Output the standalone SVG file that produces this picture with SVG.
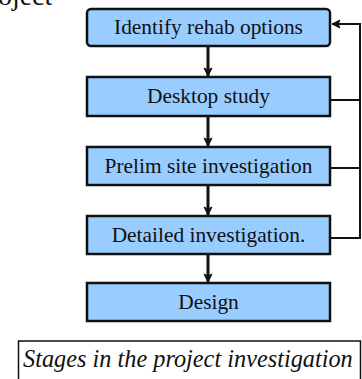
<svg xmlns="http://www.w3.org/2000/svg" width="362" height="379" viewBox="0 0 362 379">
<style>
.box{fill:#99ccff;stroke:#111;stroke-width:2.5}
text{font-family:"Liberation Serif","Times New Roman","DejaVu Serif",serif;fill:#111}
.t{font-size:21.4px;text-anchor:middle}
.c{stroke:#111;fill:none}
.flow{stroke-width:3}
.fb{stroke-width:2}
</style>
<defs>
<marker id="ah" markerWidth="10" markerHeight="10" refX="9" refY="5" orient="auto" markerUnits="userSpaceOnUse">
<path d="M1,1 L9,5 L1,9 L3,5 Z" fill="#111" stroke="#111" stroke-width="1" stroke-linejoin="miter"/>
</marker>
</defs>
<text x="-27" y="5" font-size="28">Project</text>
<g id="connectors">
<line class="c flow" x1="208" y1="47" x2="208" y2="76" marker-end="url(#ah)"/>
<line class="c flow" x1="208" y1="117" x2="208" y2="146" marker-end="url(#ah)"/>
<line class="c flow" x1="208" y1="186" x2="208" y2="215" marker-end="url(#ah)"/>
<line class="c flow" x1="208" y1="255" x2="208" y2="282" marker-end="url(#ah)"/>
<polyline class="c fb" points="330,100 360,100"/>
<polyline class="c fb" points="330,168 360,168"/>
<polyline class="c fb" points="330,238 360,238 360,24 332,24" marker-end="url(#ah)"/>
</g>
<g id="n1"><rect class="box" x="87" y="9" width="243" height="37" rx="4"/><text class="t" x="208.5" y="34">Identify rehab options</text></g>
<g id="n2"><rect class="box" x="87" y="77" width="243" height="39"/><text class="t" x="208.5" y="103">Desktop study</text></g>
<g id="n3"><rect class="box" x="87" y="147" width="243" height="38"/><text class="t" x="208.5" y="173">Prelim site investigation</text></g>
<g id="n4"><rect class="box" x="87" y="216" width="243" height="38"/><text class="t" x="208.5" y="242">Detailed investigation.</text></g>
<g id="n5"><rect class="box" x="87" y="283" width="243" height="38"/><text class="t" x="208.5" y="309">Design</text></g>
<g id="caption"><rect x="18.5" y="341" width="342" height="50" fill="#fff" stroke="#111" stroke-width="1.5"/><text x="23" y="367" font-size="24.3" font-style="italic">Stages in the project investigation</text></g>
</svg>
